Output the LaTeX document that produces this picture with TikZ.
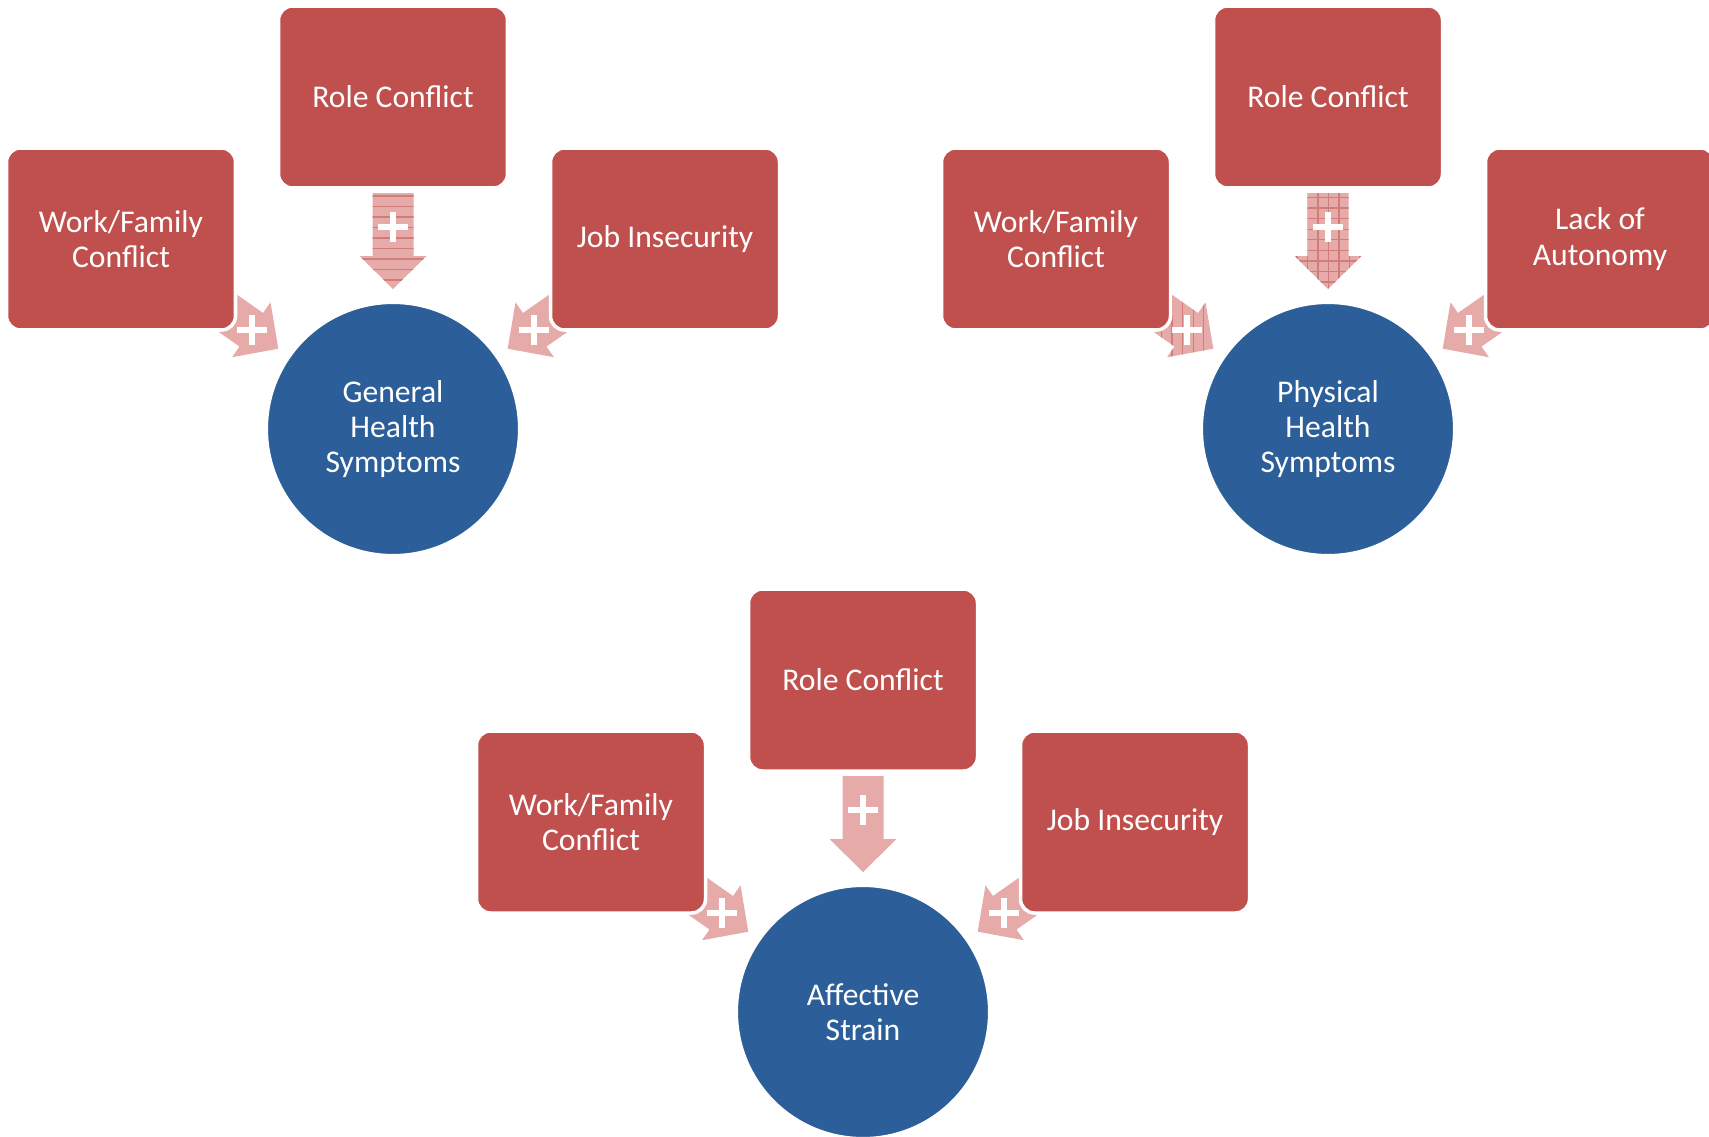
\documentclass[tikz,border=0pt]{standalone}
\usepackage{fontspec}
\setmainfont{Carlito}
\usepackage{xcolor}
\usetikzlibrary{patterns}
\definecolor{boxred}{RGB}{192,80,77}
\definecolor{circblue}{RGB}{44,94,153}
\definecolor{arrowpink}{RGB}{230,170,169}

% block arrow pointing at a circle node: #1 node, #2 angle, #3 fill extra, #4 plus distance
\newcommand{\plusarrow}[4]{%
\fill[arrowpink, #3, shift={(#1.center)}, rotate=#2] (1.40,0) -- (1.73,0.335) -- (1.73,0.205) -- (2.36,0.205) -- (2.36,-0.205) -- (1.73,-0.205) -- (1.73,-0.335) -- cycle;
\draw[white, line width=1.7pt] ([shift={(#2:#4)}]#1.center) ++(-0.15,0) -- ++(0.30,0);
\draw[white, line width=1.7pt] ([shift={(#2:#4)}]#1.center) ++(0,-0.15) -- ++(0,0.30);
}

\begin{document}
\begin{tikzpicture}[
  font=\fontsize{9}{10}\selectfont,
  cause/.style={rectangle, rounded corners=0.14cm, minimum width=2.29cm, minimum height=1.82cm, fill=boxred, draw=white, line width=1pt, text=white, align=center},
  effect/.style={circle, minimum size=2.52cm, fill=circblue, draw=white, line width=0.6pt, text=white, align=center},
  hlines/.style={postaction={pattern=horizontal lines, pattern color=boxred!75}},
  vlines/.style={postaction={pattern=vertical lines, pattern color=boxred!75}},
  glines/.style={postaction={pattern=grid, pattern color=boxred!75}},
  plain/.style={}]
\useasboundingbox (0,0) rectangle (17.09,11.36);

% outcomes
\path (3.93,7.07) coordinate (c1);
\path (13.28,7.07) coordinate (c2);
\path (8.63,1.24) coordinate (c3);

% arrows (under the boxes)
\plusarrow{c1}{90}{hlines}{2.02}
\plusarrow{c1}{145}{plain}{1.72}
\plusarrow{c1}{35}{plain}{1.72}
\plusarrow{c2}{90}{glines}{2.02}
\plusarrow{c2}{145}{vlines}{1.72}
\plusarrow{c2}{35}{plain}{1.72}
\plusarrow{c3}{90}{plain}{2.02}
\plusarrow{c3}{145}{plain}{1.72}
\plusarrow{c3}{35}{plain}{1.72}

% general health
\node[cause] (rc1) at (3.93,10.39) {Role Conflict};
\node[cause] (wf1) at (1.21,8.97) {Work/Family\\Conflict};
\node[cause] (ji1) at (6.65,8.97) {Job Insecurity};
\node[effect] (gh) at (c1) {General\\Health\\Symptoms};

% physical health
\node[cause] (rc2) at (13.28,10.39) {Role Conflict};
\node[cause] (wf2) at (10.56,8.97) {Work/Family\\Conflict};
\node[cause] (la2) at (16.00,8.97) {Lack of\\Autonomy};
\node[effect] (ph) at (c2) {Physical\\Health\\Symptoms};

% affective strain
\node[cause] (rc3) at (8.63,4.56) {Role Conflict};
\node[cause] (wf3) at (5.91,3.14) {Work/Family\\Conflict};
\node[cause] (ji3) at (11.35,3.14) {Job Insecurity};
\node[effect] (as) at (c3) {Affective\\Strain};

\end{tikzpicture}
\end{document}
